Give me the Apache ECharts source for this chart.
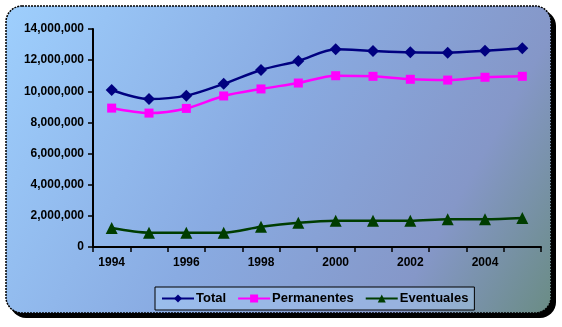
<!DOCTYPE html>
<html><head><meta charset="utf-8">
<script src="https://cdn.jsdelivr.net/npm/echarts@6/dist/echarts.min.js"></script>
<style>html,body{margin:0;padding:0;background:#fff}#c{width:562px;height:327px}</style>
</head><body><div id="c"></div>
<script>
const years = ['1994','1995','1996','1997','1998','1999','2000','2001','2002','2003','2004','2005'];
const total = [10080000, 9500000, 9720000, 10480000, 11370000, 11950000, 12700000, 12590000, 12500000, 12480000, 12600000, 12760000];
const permanentes = [8920000, 8600000, 8900000, 9700000, 10150000, 10530000, 11000000, 10960000, 10770000, 10720000, 10900000, 10960000];
const eventuales = [1220000, 920000, 920000, 920000, 1300000, 1560000, 1690000, 1690000, 1690000, 1780000, 1780000, 1860000];

const chart = echarts.init(document.getElementById('c'), null, {renderer: 'canvas'});
const font = 'Liberation Sans, Arial, sans-serif';
chart.setOption({
  animation: false,
  graphic: [
    {type: 'rect', z: -10, silent: true, shape: {x: 10, y: 10, width: 546, height: 308, r: 16}, style: {fill: '#000'}},
    {type: 'rect', z: -9, silent: true, shape: {x: 6, y: 6, width: 545, height: 307, r: 16},
      style: {fill: new echarts.graphic.LinearGradient(0, 0, 1, 1, [
        {offset: 0, color: '#9ecffd'},
        {offset: 0.45, color: '#89abe2'},
        {offset: 0.78, color: '#8597c8'},
        {offset: 1, color: '#6a8c84'}
      ]), stroke: '#000', lineWidth: 1.5, lineDash: [2, 1]}}
  ],
  grid: {left: 93, right: 21, top: 29, bottom: 80},
  legend: {
    left: 155, top: 287, width: 340,
    padding: [5, 6, 5, 6],
    itemGap: 11, itemWidth: 32, itemHeight: 10,
    backgroundColor: 'rgba(175,210,248,0.45)',
    borderColor: '#000', borderWidth: 1, borderRadius: 0,
    textStyle: {fontFamily: font, fontSize: 13, fontWeight: 'bold', color: '#000', padding: [0, 0, 0, -3]},
    data: ['Total', 'Permanentes', 'Eventuales']
  },
  xAxis: {
    type: 'category', data: years, boundaryGap: true,
    axisLine: {lineStyle: {color: '#000', width: 2}},
    axisTick: {show: true, length: 5, lineStyle: {color: '#000', width: 1.5}, alignWithLabel: false, interval: 0},
    axisLabel: {interval: 1, color: '#000', fontFamily: font, fontSize: 12, fontWeight: 'bold', margin: 10},
    splitLine: {show: false}
  },
  yAxis: {
    type: 'value', min: 0, max: 14000000, interval: 2000000,
    axisLine: {show: true, lineStyle: {color: '#000', width: 2}},
    axisTick: {show: true, length: 5, lineStyle: {color: '#000', width: 1.5}},
    axisLabel: {color: '#000', fontFamily: font, fontSize: 12, fontWeight: 'bold', margin: 9,
      formatter: v => v.toString().replace(/\B(?=(\d{3})+(?!\d))/g, ',')},
    splitLine: {show: false}
  },
  series: [
    {name: 'Total', type: 'line', data: total, smooth: 0.3, symbol: 'diamond', symbolSize: 12,
      itemStyle: {color: '#000080'}, lineStyle: {color: '#000080', width: 2.5}},
    {name: 'Permanentes', type: 'line', data: permanentes, smooth: 0.3, symbol: 'rect', symbolSize: 9,
      itemStyle: {color: '#ff00ff'}, lineStyle: {color: '#ff00ff', width: 2.5}},
    {name: 'Eventuales', type: 'line', data: eventuales, smooth: 0.3, symbol: 'triangle', symbolSize: 12,
      itemStyle: {color: '#003d00'}, lineStyle: {color: '#003d00', width: 2.5}}
  ]
});
</script></body></html>
